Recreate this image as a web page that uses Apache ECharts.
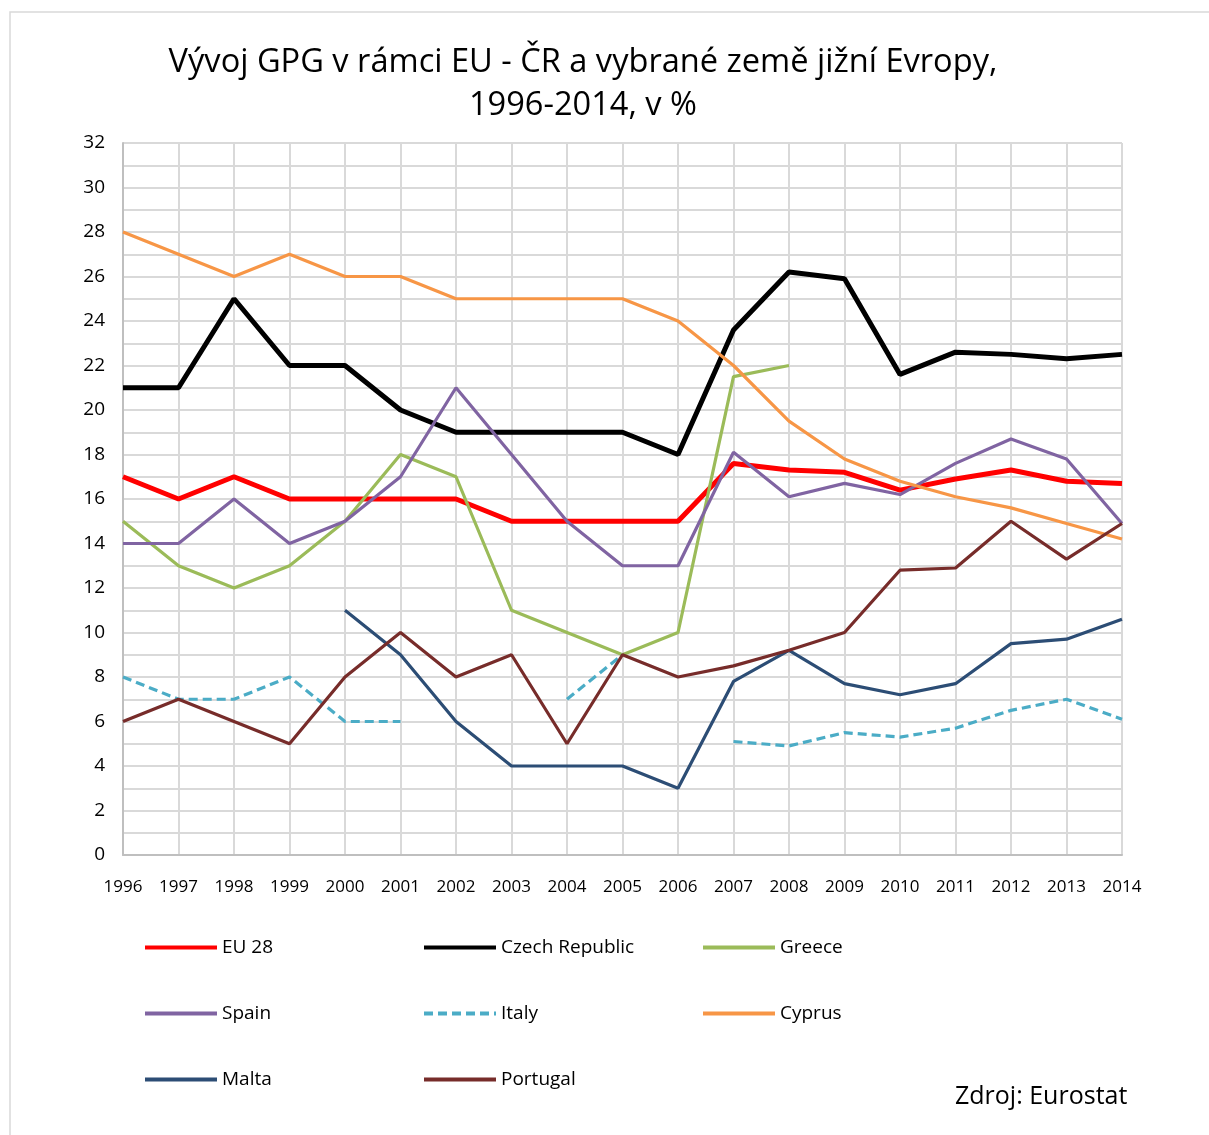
<!DOCTYPE html>
<html>
<head>
<meta charset="utf-8">
<title>Vývoj GPG v rámci EU</title>
<script src="https://cdn.jsdelivr.net/npm/echarts@6/dist/echarts.min.js"></script>
<style>
  html, body { margin: 0; padding: 0; background: #fff; }
  #chart { width: 1209px; height: 1135px; }
</style>
</head>
<body>
<div id="chart"></div>
<script>
// roky
var years = ["1996", "1997", "1998", "1999", "2000", "2001", "2002", "2003", "2004", "2005",
  "2006", "2007", "2008", "2009", "2010", "2011", "2012", "2013", "2014"];

// GPG v %
var eu28 = [17, 16, 17, 16, 16, 16, 16, 15, 15, 15, 15, 17.6, 17.3, 17.2, 16.4, 16.9, 17.3, 16.8, 16.7];
var czech = [21, 21, 25, 22, 22, 20, 19, 19, 19, 19, 18, 23.6, 26.2, 25.9, 21.6, 22.6, 22.5, 22.3, 22.5];
var greece = [15, 13, 12, 13, 15, 18, 17, 11, 10, 9, 10, 21.5, 22, null, null, null, null, null, null];
var spain = [14, 14, 16, 14, 15, 17, 21, 18, 15, 13, 13, 18.1, 16.1, 16.7, 16.2, 17.6, 18.7, 17.8, 14.9];
var italy = [8, 7, 7, 8, 6, 6, null, null, 7, 9, null, 5.1, 4.9, 5.5, 5.3, 5.7, 6.5, 7.0, 6.1];
var cyprus = [28, 27, 26, 27, 26, 26, 25, 25, 25, 25, 24, 22, 19.5, 17.8, 16.8, 16.1, 15.6, 14.9, 14.2];
var malta = [null, null, null, null, 11, 9, 6, 4, 4, 4, 3, 7.8, 9.2, 7.7, 7.2, 7.7, 9.5, 9.7, 10.6];
var portugal = [6, 7, 6, 5, 8, 10, 8, 9, 5, 9, 8, 8.5, 9.2, 10, 12.8, 12.9, 15, 13.3, 14.9];

var FONT = "Open Sans";

function makeLine(name, data, color, width, dashed) {
  return {
    name: name,
    type: "line",
    data: data,
    symbol: "none",
    connectNulls: false,
    animation: false,
    lineStyle: {
      color: color,
      width: width,
      type: dashed ? [9, 5] : "solid",
    },
    itemStyle: { color: color },
  };
}

function makeLegend(left, names) {
  return {
    orient: "vertical",
    left: left,
    top: 933,
    itemWidth: 72,
    itemHeight: 20,
    itemGap: 47,
    selectedMode: false,
    itemStyle: { opacity: 0 },
    lineStyle: { width: 4 },
    textStyle: { fontFamily: FONT, fontSize: 19, color: "#000" },
    data: names,
  };
}

var chart = echarts.init(document.getElementById("chart"));
chart.setOption({
  backgroundColor: "#fff",
  textStyle: { fontFamily: FONT },
  title: {
    text: "Vývoj GPG v rámci EU - ČR a vybrané země jižní Evropy,\n1996-2014, v %",
    left: 578,
    top: 36,
    textAlign: "center",
    textStyle: {
      fontFamily: FONT,
      fontSize: 32.6,
      fontWeight: "normal",
      color: "#000",
      lineHeight: 43,
    },
  },
  grid: {
    left: 123,
    right: 87,
    top: 143,
    bottom: 280,
  },
  legend: [
    makeLegend(138, ["EU 28", "Spain", "Malta"]),
    makeLegend(417, ["Czech Republic", "Italy", "Portugal"]),
    makeLegend(696, ["Greece", "Cyprus"]),
  ],
  xAxis: {
    type: "category",
    data: years,
    boundaryGap: false,
    axisLine: { lineStyle: { color: "#bfbfbf", width: 2 } },
    axisTick: { show: false },
    axisLabel: {
      color: "#000",
      fontFamily: FONT,
      fontSize: 17,
      margin: 24,
      interval: 0,
    },
    splitLine: { show: true, lineStyle: { color: "#d9d9d9", width: 2 } },
  },
  yAxis: {
    type: "value",
    min: 0,
    max: 32,
    interval: 1,
    axisLine: { show: true, lineStyle: { color: "#bfbfbf", width: 2 } },
    axisTick: { show: false },
    axisLabel: {
      color: "#000",
      fontFamily: FONT,
      fontSize: 19,
      margin: 18,
      formatter: function (v) {
        return v % 2 === 0 ? String(v) : "";
      },
    },
    splitLine: { show: true, lineStyle: { color: "#d9d9d9", width: 2 } },
  },
  series: [
    makeLine("EU 28", eu28, "#ff0000", 5),
    makeLine("Czech Republic", czech, "#000000", 5),
    makeLine("Greece", greece, "#9bbb59", 3.2),
    makeLine("Spain", spain, "#8064a2", 3.2),
    makeLine("Italy", italy, "#4bacc6", 3.2, true),
    makeLine("Cyprus", cyprus, "#f79646", 3.2),
    makeLine("Malta", malta, "#2c4d75", 3.2),
    makeLine("Portugal", portugal, "#772c2a", 3.2),
  ],
  graphic: [
    {
      type: "rect",
      silent: true,
      z: -1,
      shape: { x: 10, y: 12, width: 1205, height: 1140 },
      style: { fill: null, stroke: "#d9d9d9", lineWidth: 1.5 },
    },
    {
      type: "text",
      left: 955,
      top: 1084,
      style: {
        text: "Zdroj: Eurostat",
        fontFamily: FONT,
        fontSize: 25,
        fill: "#000",
      },
    },
  ],
});
</script>
</body>
</html>
